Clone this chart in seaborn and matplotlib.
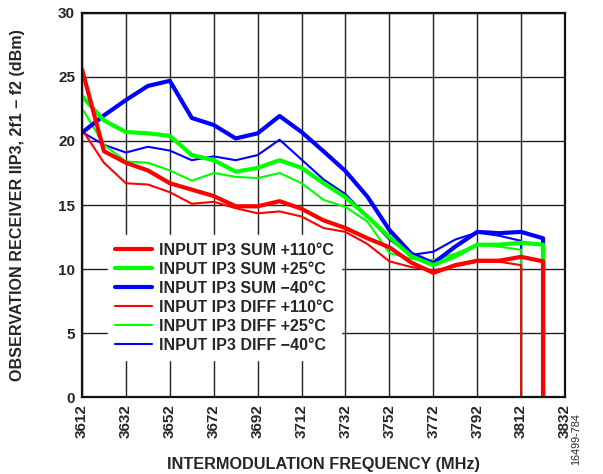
import matplotlib
matplotlib.use("Agg")
import matplotlib.pyplot as plt
import seaborn as sns
import pandas as pd

# frequencies (MHz); last point repeats the end freq where the trace drops to 0
freq_sum = [3612, 3622, 3632, 3642, 3652, 3662, 3672, 3682, 3692, 3702, 3712,
            3722, 3732, 3742, 3752, 3762, 3772, 3782, 3792, 3802, 3812, 3822, 3822]
freq_diff = [3612, 3622, 3632, 3642, 3652, 3662, 3672, 3682, 3692, 3702, 3712,
             3722, 3732, 3742, 3752, 3762, 3772, 3782, 3792, 3802, 3812, 3812]

sum_110 = [25.6, 19.2, 18.3, 17.7, 16.7, 16.2, 15.7, 14.9, 14.9, 15.3, 14.7,
           13.8, 13.2, 12.4, 11.7, 10.5, 9.7, 10.3, 10.65, 10.65, 10.95, 10.6, 0]
sum_25 = [23.5, 21.6, 20.7, 20.6, 20.4, 18.9, 18.5, 17.6, 17.9, 18.5, 17.9,
          16.7, 15.6, 14.1, 12.5, 11.0, 10.3, 11.0, 11.9, 11.9, 12.05, 11.9, 0]
sum_m40 = [20.65, 22.0, 23.2, 24.3, 24.7, 21.8, 21.25, 20.2, 20.6, 21.95, 20.7,
           19.2, 17.65, 15.65, 13.05, 11.2, 10.45, 11.75, 12.9, 12.8, 12.9, 12.4, 0]
diff_110 = [20.9, 18.3, 16.7, 16.6, 16.0, 15.1, 15.25, 14.75, 14.35, 14.5, 14.1,
            13.2, 12.9, 11.95, 10.6, 10.15, 9.9, 10.2, 10.57, 10.57, 10.3, 0]
diff_25 = [22.55, 19.7, 18.4, 18.3, 17.7, 16.9, 17.5, 17.2, 17.1, 17.5, 16.7,
           15.4, 14.85, 13.7, 11.25, 10.8, 10.7, 11.2, 11.9, 11.75, 11.5, 0]
diff_m40 = [20.7, 19.7, 19.1, 19.55, 19.25, 18.5, 18.8, 18.5, 18.9, 20.1, 18.55,
            17.0, 15.85, 14.1, 12.3, 11.1, 11.35, 12.3, 12.85, 12.6, 12.2, 0]

x_ticks = [3612, 3632, 3652, 3672, 3692, 3712, 3732, 3752, 3772, 3792, 3812, 3832]
y_ticks = [0, 5, 10, 15, 20, 25, 30]

RED, GREEN, BLUE = "#ff0000", "#00ff00", "#0000ff"

# draw order: thin first, thick on top, red last within each group
series = [
    ("INPUT IP3 DIFF \u221240\u00b0C", freq_diff, diff_m40, BLUE, 1.5),
    ("INPUT IP3 DIFF +25\u00b0C", freq_diff, diff_25, GREEN, 1.5),
    ("INPUT IP3 DIFF +110\u00b0C", freq_diff, diff_110, RED, 1.5),
    ("INPUT IP3 SUM \u221240\u00b0C", freq_sum, sum_m40, BLUE, 3.0),
    ("INPUT IP3 SUM +25\u00b0C", freq_sum, sum_25, GREEN, 3.0),
    ("INPUT IP3 SUM +110\u00b0C", freq_sum, sum_110, RED, 3.0),
]
legend_order = [5, 4, 3, 2, 1, 0]

sns.set_style("white")
plt.rcParams["font.family"] = ["Liberation Sans", "DejaVu Sans"]
plt.rcParams["font.weight"] = "bold"

fig = plt.figure(figsize=(6.03, 4.74), dpi=100)
ax = fig.add_axes([0.136, 0.1624, 0.801, 0.8102])

for name, xs, ys, col, lw in series:
    df = pd.DataFrame({"freq": xs, "val": ys})
    sns.lineplot(data=df, x="freq", y="val", estimator=None, sort=False,
                 color=col, linewidth=lw, ax=ax, label=name)

ax.set_xlim(3612, 3832)
ax.set_ylim(0, 30)
ax.set_xticks(x_ticks)
ax.set_yticks(y_ticks)
ax.set_xticklabels([str(t) for t in x_ticks], rotation=90, fontsize=11, fontweight="bold")
ax.set_yticklabels([str(t) for t in y_ticks], fontsize=11, fontweight="bold")
ax.tick_params(length=0, pad=5)
ax.grid(True, color="#222222", linewidth=1.0)
ax.set_axisbelow(True)
for sp in ax.spines.values():
    sp.set_color("#111111")
    sp.set_linewidth(1.6)

ax.set_xlabel("INTERMODULATION FREQUENCY (MHz)", fontsize=11.7, fontweight="bold", va="top")
ax.xaxis.set_label_coords(0.5, -0.157)
ax.set_ylabel("OBSERVATION RECEIVER IIP3, 2f1 \u2013 f2 (dBm)", fontsize=11.6,
              fontweight="bold")
ax.yaxis.set_label_coords(-0.118, 0.5)

h, l = ax.get_legend_handles_labels()
leg = ax.legend([h[i] for i in legend_order], [l[i] for i in legend_order],
                loc="lower left", bbox_to_anchor=(0.054, 0.097), fontsize=11.5,
                frameon=True, fancybox=False, framealpha=1, edgecolor="white",
                handlelength=2.3, handletextpad=0.45, labelspacing=0.25,
                borderpad=0.45, borderaxespad=0)
for t in leg.get_texts():
    t.set_fontweight("bold")

fig.text(0.955, 0.019, "16499-784", rotation=90, fontsize=7.8, fontweight="normal",
         ha="center", va="bottom")

plt.savefig("out.png", dpi=100)
plt.close()
